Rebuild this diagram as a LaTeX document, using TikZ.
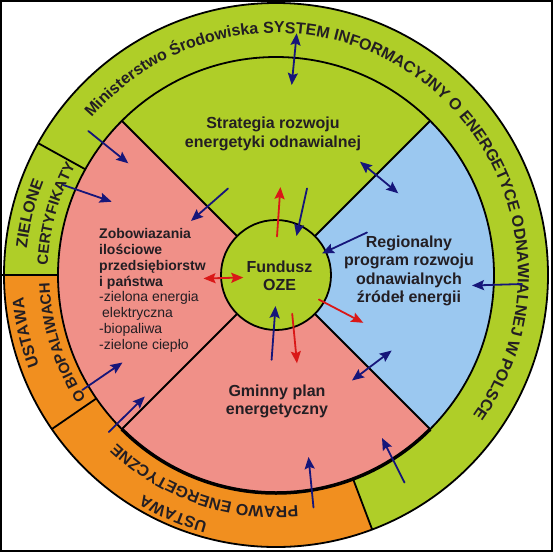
\documentclass[tikz,border=0pt]{standalone}
\usepackage{fontspec}
\setmainfont{Liberation Sans}
\usepackage{xcolor}
\usepackage{tikz}
\usepackage{tkz-euclide}
\usetikzlibrary{calc,arrows.meta,decorations.text}
\definecolor{ringgreen}{RGB}{175,206,40}
\definecolor{sectpink}{RGB}{240,144,136}
\definecolor{sectblue}{RGB}{155,200,240}
\definecolor{ringorange}{RGB}{241,143,31}
\definecolor{arrnavy}{RGB}{22,22,122}
\definecolor{arrred}{RGB}{218,24,24}
\definecolor{txtdark}{RGB}{35,30,35}
\newcommand\ringfont{\fontsize{16}{16}\selectfont\bfseries}
\newcommand\ringsmall{\fontsize{15}{15}\selectfont\bfseries}
\tikzset{
	ahead/.tip={Stealth[length=12pt,width=10pt,inset=2pt]},
	navyarr/.style={draw=arrnavy,line width=1.8pt,-ahead},
	navydbl/.style={draw=arrnavy,line width=1.8pt,ahead-ahead},
	redarr/.style={draw=arrred,line width=1.8pt,-ahead},
	reddbl/.style={draw=arrred,line width=1.8pt,ahead-ahead},
	divline/.style={draw=black,line width=1.8pt},
	secthead/.style={inner sep=0pt,align=center,text=txtdark,font=\fontsize{16}{18.3}\selectfont\bfseries},
	listtext/.style={inner sep=0pt,align=left,text=txtdark,font=\fontsize{14}{15.8}\selectfont},
	ringtext/.style={decorate,decoration={text along path,text align=center,text color=txtdark,text={|\ringfont|#1}}},
	ringsmalltext/.style={decorate,decoration={text along path,text align=center,text color=txtdark,text={|\ringsmall|#1}}}
}

\begin{document}
\begin{tikzpicture}[x=1pt,y=1pt]
			\useasboundingbox (-276,-277) rectangle (277,275);
			\tkzDefPoint(0,0){O}
			\fill[ringgreen] (O) circle (272);
			\fill[ringorange] (180:218) arc (180:290.7:218) -- (290.7:272) arc (290.7:180:272) -- cycle;
			\fill[ringgreen] (O) -- (45:218) arc (45:135:218) -- cycle;
			\fill[sectpink] (O) -- (135:218) arc (135:315:218) -- cycle;
			\fill[sectblue] (O) -- (-45:218) arc (-45:45:218) -- cycle;
			\fill[ringgreen] (O) circle (55);
			\draw[divline] (O) circle (272) (O) circle (218) (O) circle (55);
			\draw[divline,line width=3.5pt] (225:218) arc (225:315:218);
			\draw[divline] (45:55) -- (45:218) (135:55) -- (135:218) (225:55) -- (225:218) (315:55) -- (315:218);
			\draw[divline] (151:218) -- (151:272) (180:218) -- (180:275) (214.5:218) -- (214.5:272) (290.7:218) -- (290.7:272);
			\draw[line width=2.5pt] (-275,-276) rectangle (276,274);
			\path[ringtext={Ministerstwo Środowiska SYSTEM INFORMACYJNY O ENERGETYCE ODNAWIALNEJ W POLSCE}] (152:242) arc[start angle=152,end angle=-48,radius=242];
			\path[ringtext={ZIELONE}] (196:250.5) arc[start angle=196,end angle=136,radius=250.5];
			\path[ringsmalltext={CERTYFIKATY}] (204.5:228.5) arc[start angle=204.5,end angle=124.5,radius=228.5];
			\path[ringtext={USTAWA}] (223:253.5) arc[start angle=223,end angle=163,radius=253.5];
			\path[ringsmalltext={O BIOPALIWACH}] (237.5:226.5) arc[start angle=237.5,end angle=157.5,radius=226.5];
			\path[ringtext={USTAWA}] (286.7:256.5) arc[start angle=286.7,end angle=206.7,radius=256.5];
			\path[ringtext={PRAWO ENERGETYCZNE}] (291:231.5) arc[start angle=291,end angle=211,radius=231.5];
			\node[secthead] (strat) at (-3,141) {Strategia rozwoju\\energetyki odnawialnej};
			\node[secthead] (fund) at (3.5,-1) {Fundusz\\OZE};
			\node[secthead] (regio) at (133,4) {Regionalny\\program rozwoju\\odnawialnych\\źródeł energii};
			\node[secthead] (gmin) at (1,-126.5) {Gminny plan\\energetyczny};
			\node[listtext,anchor=west] (zobow) at (-177,-15.3) {\textbf{Zobowiazania}\\\textbf{ilościowe}\\\textbf{przedsiębiorstw}\\\textbf{i państwa}\\-zielona energia\\\hspace*{3pt}elektryczna\\-biopaliwa\\-zielone ciepło};
			\tkzDefPoint(20.7,241.7){Sa}
			\tkzDefPoint(15.7,190){Sb}
			\tkzDefPoint(84,113.3){Ra}
			\tkzDefPoint(122.3,81.7){Rb}
			\tkzDefPoint(-187.7,144){Ma}
			\tkzDefPoint(-147.7,111.7){Mb}
			\tkzDefPoint(-212.7,90){Za}
			\tkzDefPoint(-164.3,73.3){Zb}
			\tkzDefPoint(-48,86.5){Pa}
			\tkzDefPoint(-85,54){Pb}
			\tkzDefPoint(31,86.5){Fa}
			\tkzDefPoint(20.5,39){Fb}
			\tkzDefPoint(91,42.5){Ga}
			\tkzDefPoint(46,21.5){Gb}
			\tkzDefPoint(246,-9){Wa}
			\tkzDefPoint(196,-10.5){Wb}
			\tkzDefPoint(76,-105.5){Ka}
			\tkzDefPoint(115.7,-75.5){Kb}
			\tkzDefPoint(-4.4,-84.8){Ua}
			\tkzDefPoint(-0.5,-31){Ub}
			\tkzDefPoint(37.5,-232.5){Ea}
			\tkzDefPoint(32.5,-182){Eb}
			\tkzDefPoint(128.5,-207.5){Da}
			\tkzDefPoint(106,-163){Db}
			\tkzDefPoint(-193.7,-115){Ba}
			\tkzDefPoint(-153.5,-87.5){Bb}
			\tkzDefPoint(-167.2,-157){Ca}
			\tkzDefPoint(-131.2,-121.5){Cb}
			\tkzDefPoint(1,38.5){Ha}
			\tkzDefPoint(4.4,88){Hb}
			\tkzDefPoint(-72.5,-3.5){Ja}
			\tkzDefPoint(-32.7,-2.5){Jb}
			\tkzDefPoint(42.8,-24.5){La}
			\tkzDefPoint(87.3,-47.8){Lb}
			\tkzDefPoint(16.2,-38.7){Na}
			\tkzDefPoint(21,-88.3){Nb}
			\tkzDrawSegment[navydbl](Sa,Sb)
			\tkzDrawSegment[navydbl](Ra,Rb)
			\tkzDrawSegment[navyarr](Ma,Mb)
			\tkzDrawSegment[navyarr](Za,Zb)
			\tkzDrawSegment[navyarr](Pa,Pb)
			\tkzDrawSegment[navyarr](Fa,Fb)
			\tkzDrawSegment[navyarr](Ga,Gb)
			\tkzDrawSegment[navyarr](Wa,Wb)
			\tkzDrawSegment[navydbl](Ka,Kb)
			\tkzDrawSegment[navyarr](Ua,Ub)
			\tkzDrawSegment[navyarr](Ea,Eb)
			\tkzDrawSegment[navyarr](Da,Db)
			\tkzDrawSegment[navyarr](Ba,Bb)
			\tkzDrawSegment[navyarr](Ca,Cb)
			\tkzDrawSegment[redarr](Ha,Hb)
			\tkzDrawSegment[reddbl](Ja,Jb)
			\tkzDrawSegment[redarr](La,Lb)
			\tkzDrawSegment[redarr](Na,Nb)
		\end{tikzpicture}
\end{document}
